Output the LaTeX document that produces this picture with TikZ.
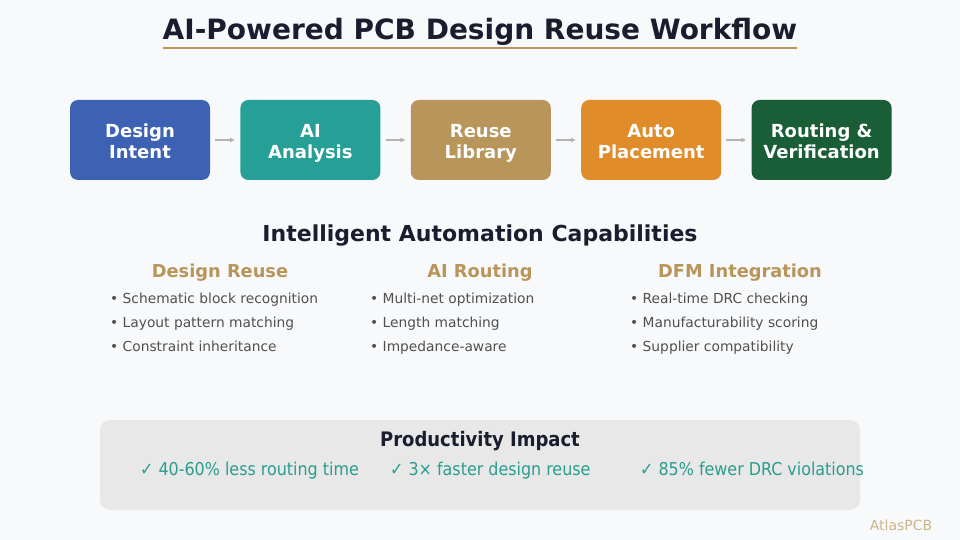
\documentclass[tikz,border=0pt]{standalone}
\usepackage{fontspec}
\setmainfont{DejaVu Sans}
\newfontfamily\condfont{DejaVu Sans Condensed}
\usepackage{xcolor}
\usepackage{tikz}
\usetikzlibrary{arrows.meta,positioning}

\definecolor{bgcol}{HTML}{F8F9FB}
\definecolor{inkcol}{HTML}{1A1D2E}
\definecolor{goldcol}{HTML}{B8955A}
\definecolor{bluecol}{HTML}{3D62B3}
\definecolor{tealcol}{HTML}{26A096}
\definecolor{orangecol}{HTML}{E08C2A}
\definecolor{greencol}{HTML}{1A5E38}
\definecolor{bulletcol}{HTML}{505050}
\definecolor{impactcol}{HTML}{2A9D8F}

\begin{document}
\begin{tikzpicture}[
			x=1pt, y=-1pt,
			stage/.style={
					rounded corners=8pt, minimum width=140pt, minimum height=80pt,
					align=center, text=white, font=\fontsize{18}{21}\selectfont\bfseries,
					inner sep=0pt, text height=37pt, text depth=0pt
				},
			flow/.style={-{Latex[length=5pt,width=5pt]}, draw=gray!60, line width=1.2pt,
					shorten >=5pt, shorten <=5pt},
			colhead/.style={anchor=base, text=goldcol, font=\fontsize{17.8}{20}\selectfont\bfseries},
			item/.style={anchor=base west, text=bulletcol, font=\fontsize{13.8}{16}\selectfont, inner sep=0pt},
			gain/.style={anchor=base west, text=impactcol, font=\condfont\fontsize{17.7}{20}\selectfont, inner sep=0pt},
			node distance=30pt
		]

		% Background
		\fill[bgcol] (0,0) rectangle (960,540);
		\useasboundingbox (0,0) rectangle (960,540);

		% Title
		\node[anchor=base, text=inkcol, font=\fontsize{28}{32}\selectfont\bfseries] (title) at (480,40)
		{AI-Powered PCB Design Reuse Workflow};
		\draw[goldcol, line width=2pt] (163,48) -- (797,48);

		% Workflow stages
		\node[stage, fill=bluecol] (intent) at (140,140) {Design\\Intent};
		\node[stage, fill=tealcol, right=of intent] (analysis) {AI\\Analysis};
		\node[stage, fill=goldcol, right=of analysis] (library) {Reuse\\Library};
		\node[stage, fill=orangecol, right=of library] (placement) {Auto\\Placement};
		\node[stage, fill=greencol, right=of placement] (routing) {Routing \&\\Verification};

		% Arrows between stages
		\draw[flow] (intent) -- (analysis);
		\draw[flow] (analysis) -- (library);
		\draw[flow] (library) -- (placement);
		\draw[flow] (placement) -- (routing);

		% Capabilities
		\node[anchor=base, text=inkcol, font=\fontsize{22}{26}\selectfont\bfseries] (capab) at (480,241)
		{Intelligent Automation Capabilities};

		\node[colhead] (reuse) at (220,277.5) {Design Reuse};
		\node[item] (r1) at (110,303) {•\ Schematic block recognition};
		\node[item] (r2) at (110,327) {•\ Layout pattern matching};
		\node[item] (r3) at (110,351) {•\ Constraint inheritance};

		\node[colhead] (airoute) at (480,277.5) {AI Routing};
		\node[item] (a1) at (370,303) {•\ Multi-net optimization};
		\node[item] (a2) at (370,327) {•\ Length matching};
		\node[item] (a3) at (370,351) {•\ Impedance-aware};

		\node[colhead] (dfm) at (740,277.5) {DFM Integration};
		\node[item] (d1) at (630,303) {•\ Real-time DRC checking};
		\node[item] (d2) at (630,327) {•\ Manufacturability scoring};
		\node[item] (d3) at (630,351) {•\ Supplier compatibility};

		% Productivity impact
		\fill[gray!18, rounded corners=10pt] (100,420) rectangle (860,510);
		\node[anchor=base, text=inkcol, font=\condfont\fontsize{20}{24}\selectfont\bfseries] (impact) at (480,446)
		{Productivity Impact};
		\node[gain] (g1) at (140,475) {✓ 40-60\% less routing time};
		\node[gain] (g2) at (390,475) {✓ 3× faster design reuse};
		\node[gain] (g3) at (640,475) {✓ 85\% fewer DRC violations};

		% Brand
		\node[anchor=base, text=goldcol!70, font=\fontsize{14}{16}\selectfont] (brand) at (901,530) {AtlasPCB};

	\end{tikzpicture}
\end{document}
